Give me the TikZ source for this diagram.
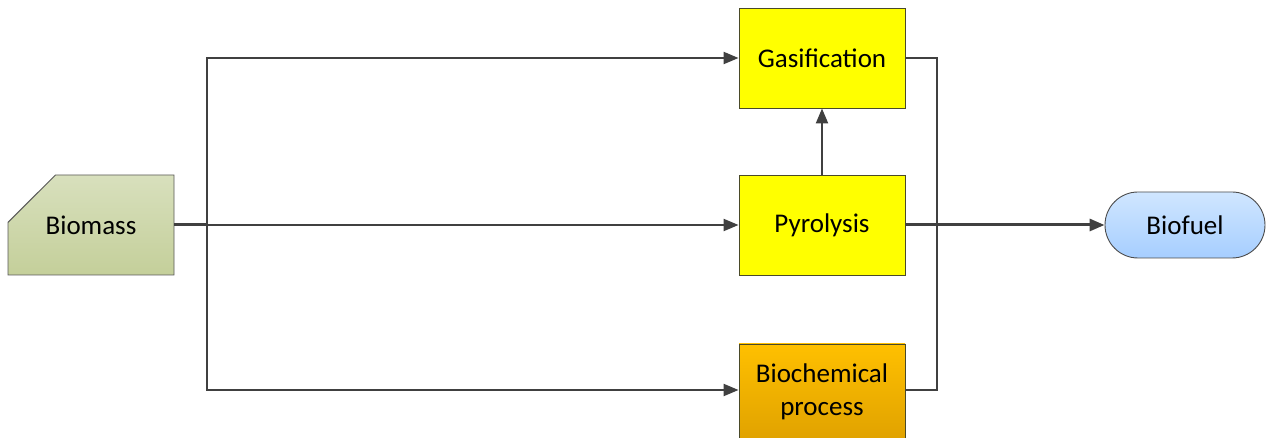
\documentclass[tikz,border=0pt]{standalone}
\usepackage{fontspec}
\setmainfont{Carlito}
\usetikzlibrary{shapes.misc,arrows.meta}
\definecolor{linec}{HTML}{404040}
\definecolor{edgec}{HTML}{6A6A3A}
\tikzset{
  txt/.style={font=\fontsize{27}{33}\selectfont},
  proc/.style={txt, draw=edgec!70!black, line width=0.9pt, minimum width=166pt, minimum height=100pt, inner sep=0pt, align=center},
  conn/.style={draw=linec, line width=2.2pt},
  arr/.style={conn, -{Triangle[length=15pt,width=12pt]}},
}
\begin{document}
\begin{tikzpicture}[x=1pt,y=-1pt]
\clip (0,0) rectangle (1267,438);
\fill[white] (0,0) rectangle (1267,438);
\node[txt, chamfered rectangle, chamfered rectangle corners=north west, chamfered rectangle xsep=40pt, chamfered rectangle ysep=38pt,
  draw=gray!70!black, line width=0.9pt, top color={rgb,255:red,216;green,224;blue,189}, bottom color={rgb,255:red,196;green,207;blue,154},
  minimum width=166pt, minimum height=100pt, inner sep=0pt] (bio) at (91,225) {Biomass};
\node[proc, fill={rgb,255:red,255;green,255;blue,0}] (gas) at (822,58) {Gasification};
\node[proc, fill={rgb,255:red,255;green,255;blue,0}] (pyr) at (822,225) {Pyrolysis};
\node[proc, minimum height=96pt, top color={rgb,255:red,255;green,192;blue,0}, bottom color={rgb,255:red,224;green,162;blue,0}] (bch) at (822,392) {Biochemical\\process};
\node[txt, rounded rectangle, draw=gray!60!black, line width=0.9pt, minimum width=160pt, minimum height=66pt, inner sep=0pt,
  top color={rgb,255:red,208;green,230;blue,255}, bottom color={rgb,255:red,166;green,206;blue,255}] (fuel) at (1185,225) {Biofuel};
\coordinate (j) at (207,225);
\coordinate (k) at (937,225);
\coordinate (bw) at (bch.west |- 0,390);
\coordinate (be) at (bch.east |- 0,390);
\draw[conn, line width=3pt] (bio.east) -- (j);
\draw[arr] (j) |- (gas.west);
\draw[arr] (j) |- (bw);
\draw[arr] (bio.east) -- (pyr.west);
\draw[conn] (gas.east) -| (k);
\draw[conn] (be) -| (k);
\draw[arr, line width=3pt] (pyr.east) -- (fuel.west);
\draw[arr] (pyr.north) -- (gas.south);
\end{tikzpicture}
\end{document}
